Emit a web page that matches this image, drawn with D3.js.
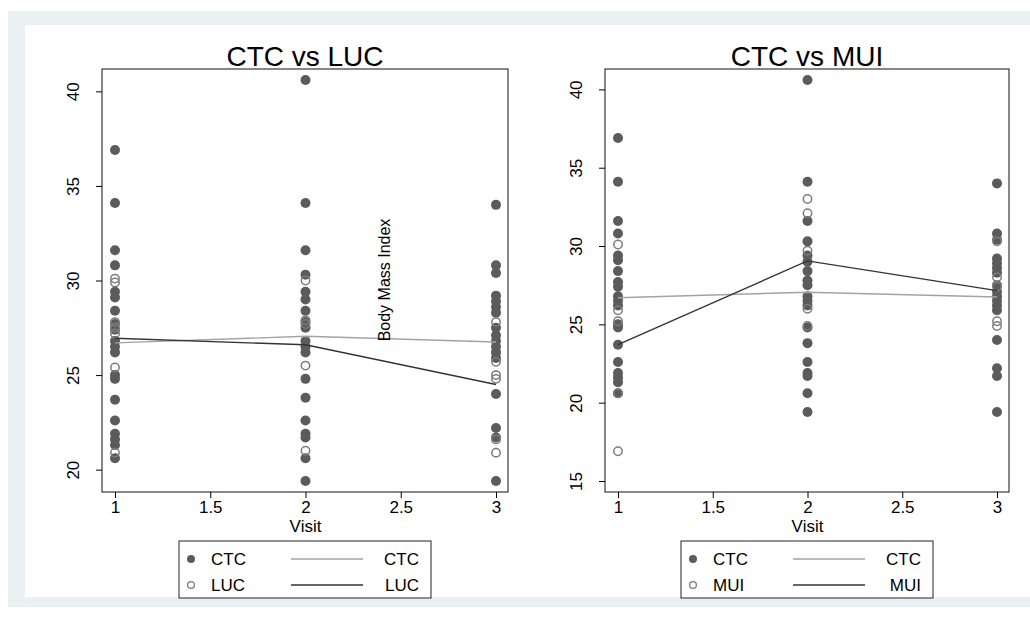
<!DOCTYPE html>
<html>
<head>
<meta charset="utf-8">
<script src="https://cdn.jsdelivr.net/npm/d3@7"></script>
<style>
  body { margin: 0; background: #fff; }
  svg text { font-family: "Liberation Sans", Arial, sans-serif; fill: #000; }
</style>
</head>
<body>
<div class="chart"></div>
<script>
const width = 1030
const height = 625

const visits = [1, 2, 3]
const xTicks = [1, 1.5, 2, 2.5, 3]

// body mass index per visit
const ctcPoints = [
  [36.9, 34.1, 31.6, 30.8, 29.4, 29.1, 28.4, 27.7, 27.4, 26.8, 26.5, 26.2, 25.0, 24.8, 23.7, 22.6, 21.9, 21.6, 21.3, 20.6],
  [40.6, 34.1, 31.6, 30.3, 29.4, 29.0, 28.4, 27.8, 27.5, 26.8, 26.5, 26.2, 24.8, 23.8, 22.6, 21.9, 21.7, 20.6, 19.4],
  [34.0, 30.8, 30.4, 29.2, 28.9, 28.6, 28.3, 27.5, 27.1, 26.8, 26.5, 26.2, 25.9, 24.0, 22.2, 21.7, 19.4]
]
const lucPoints = [
  [30.1, 29.9, 27.8, 27.5, 27.2, 25.4, 20.9],
  [30.0, 27.9, 27.7, 25.5, 21.0],
  [27.8, 25.7, 25.0, 24.8, 21.6, 20.9]
]
const muiPoints = [
  [30.1, 25.9, 25.2, 20.6, 16.9],
  [33.0, 32.1, 29.7, 26.0, 24.9],
  [30.3, 28.0, 27.4, 25.2, 24.9]
]

// mean lines
const ctcMean = [26.7, 27.05, 26.75]
const lucMean = [26.95, 26.6, 24.5]
const muiMean = [23.7, 29.05, 27.15]

const lucTicks = [20, 25, 30, 35, 40]
const muiTicks = [15, 20, 25, 30, 35, 40]

const filledColor = "#5b5b5b"
const hollowColor = "#7c7c7c"
const ctcLineColor = "#a3a3a3"
const groupLineColor = "#333333"

const svg = d3.create("svg")
  .attr("width", width)
  .attr("height", height)

svg.append("rect")
  .attr("x", 8).attr("y", 11)
  .attr("width", width - 8).attr("height", 596)
  .attr("fill", "#eaf1f3")
svg.append("rect")
  .attr("x", 25).attr("y", 25)
  .attr("width", width - 25).attr("height", 572)
  .attr("fill", "#fff")

function drawPanel(opts) {
  const {x0, x1, title, group, groupPoints, groupMean, yTicks, showYTitle} = opts
  const top = 69, bottom = 492

  const all = ctcPoints.flat().concat(groupPoints.flat())
  const yMin = Math.min(d3.min(all), yTicks[0])
  const yMax = Math.max(d3.max(all), yTicks[yTicks.length - 1])

  const x = d3.scaleLinear().domain([1, 3]).range([x0 + 13, x1 - 12])
  const y = d3.scaleLinear().domain([yMin, yMax]).range([bottom - 11, top + 11])

  const g = svg.append("g")

  g.append("text")
    .attr("x", (x0 + x1) / 2)
    .attr("y", 66)
    .attr("text-anchor", "middle")
    .style("font-size", "28px")
    .text(title)

  // points
  const pts = g.append("g")
  ctcPoints.forEach((vals, i) => {
    pts.selectAll(null)
      .data(vals)
      .join("circle")
      .attr("cx", x(visits[i]))
      .attr("cy", d => y(d))
      .attr("r", 5)
      .attr("fill", filledColor)
  })
  groupPoints.forEach((vals, i) => {
    pts.selectAll(null)
      .data(vals)
      .join("circle")
      .attr("cx", x(visits[i]))
      .attr("cy", d => y(d))
      .attr("r", 4.2)
      .attr("fill", "none")
      .attr("stroke", hollowColor)
      .attr("stroke-width", 1.5)
  })

  const line = d3.line()
    .x((d, i) => x(visits[i]))
    .y(d => y(d))

  g.append("path")
    .attr("d", line(ctcMean))
    .attr("fill", "none")
    .attr("stroke", ctcLineColor)
    .attr("stroke-width", 1.4)
  g.append("path")
    .attr("d", line(groupMean))
    .attr("fill", "none")
    .attr("stroke", groupLineColor)
    .attr("stroke-width", 1.4)

  // frame
  g.append("rect")
    .attr("x", x0).attr("y", top)
    .attr("width", x1 - x0).attr("height", bottom - top)
    .attr("fill", "none")
    .attr("stroke", "#111")
    .attr("stroke-width", 1)

  // y axis
  const yAxis = g.append("g")
    .attr("transform", `translate(${x0},0)`)
    .call(d3.axisLeft(y).tickValues(yTicks).tickSize(6).tickFormat(d3.format("d")))
  yAxis.select(".domain").remove()
  yAxis.selectAll(".tick text")
    .attr("x", null)
    .attr("text-anchor", "middle")
    .attr("transform", "translate(-29,0) rotate(-90)")
    .attr("y", 0)
    .style("font-size", "17px")
    .style("font-family", "Liberation Sans, Arial, sans-serif")
    .attr("dy", "0.35em")

  // x axis
  const xAxis = g.append("g")
    .attr("transform", `translate(0,${bottom})`)
    .call(d3.axisBottom(x).tickValues(xTicks).tickSize(6).tickFormat(d3.format("")))
  xAxis.select(".domain").remove()
  xAxis.selectAll(".tick text")
    .attr("y", 9)
    .style("font-size", "17px")
    .style("font-family", "Liberation Sans, Arial, sans-serif")

  g.append("text")
    .attr("x", x(2))
    .attr("y", 532)
    .attr("text-anchor", "middle")
    .style("font-size", "17px")
    .text("Visit")

  if (showYTitle) {
    g.append("text")
      .attr("transform", `translate(390,280) rotate(-90)`)
      .attr("text-anchor", "middle")
      .style("font-size", "16px")
      .text("Body Mass Index")
  }

  // legend
  const lx = (x0 + x1) / 2 - 126, ly = 541
  const leg = g.append("g").attr("transform", `translate(${lx},${ly})`)
  leg.append("rect")
    .attr("width", 252).attr("height", 57)
    .attr("fill", "#fff").attr("stroke", "#222").attr("stroke-width", 1)

  const rows = [
    {name: "CTC", filled: true, color: ctcLineColor},
    {name: group, filled: false, color: groupLineColor}
  ]
  rows.forEach((r, i) => {
    const ry = 18 + i * 26
    leg.append("circle")
      .attr("cx", 12).attr("cy", ry)
      .attr("r", r.filled ? 4 : 3.4)
      .attr("fill", r.filled ? filledColor : "none")
      .attr("stroke", r.filled ? "none" : hollowColor)
      .attr("stroke-width", 1.3)
    leg.append("text")
      .attr("x", 32).attr("y", ry + 6)
      .style("font-size", "17px")
      .text(r.name)
    leg.append("line")
      .attr("x1", 112).attr("x2", 184)
      .attr("y1", ry).attr("y2", ry)
      .attr("stroke", r.color).attr("stroke-width", 1.4)
    leg.append("text")
      .attr("x", 240).attr("y", ry + 6)
      .attr("text-anchor", "end")
      .style("font-size", "17px")
      .text(r.name)
  })
}

drawPanel({x0: 102, x1: 508, title: "CTC vs LUC", group: "LUC",
  groupPoints: lucPoints, groupMean: lucMean, yTicks: lucTicks, showYTitle: true})
drawPanel({x0: 605, x1: 1009, title: "CTC vs MUI", group: "MUI",
  groupPoints: muiPoints, groupMean: muiMean, yTicks: muiTicks, showYTitle: false})

document.querySelector(".chart").append(svg.node())
</script>
</body>
</html>
